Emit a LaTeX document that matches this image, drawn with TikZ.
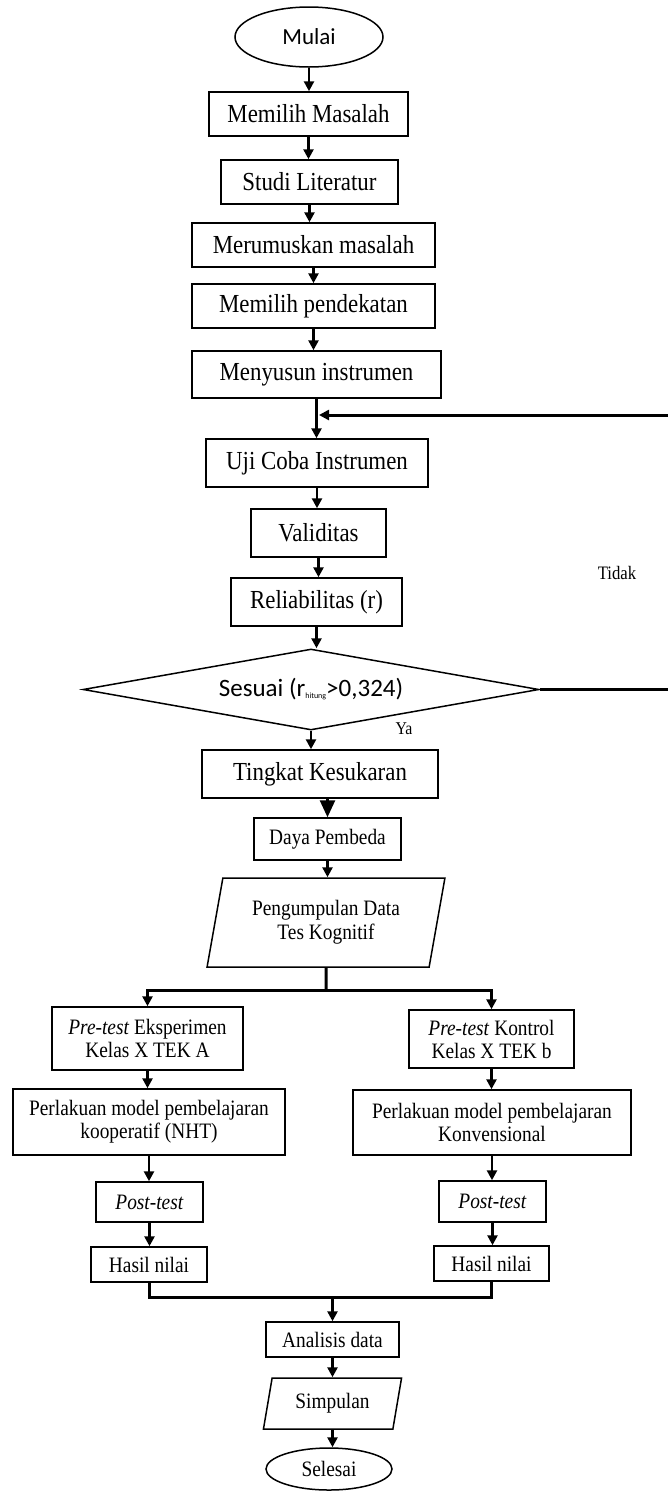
\documentclass[tikz,border=0pt]{standalone}
\usepackage{fontspec}
\setmainfont{Liberation Serif}[FakeStretch=0.88]
\newfontfamily\calibri{Carlito}
\usetikzlibrary{shapes.geometric,arrows.meta}

\begin{document}
\begin{tikzpicture}[x=1pt, y=-1pt, >={Triangle[length=10pt,width=10pt]}]
	\tikzstyle{every node}=[inner sep=1pt, align=center]
	\tikzstyle{box}=[draw, line width=1.5pt, font=\fontsize{26}{28}\selectfont]
	\tikzstyle{boxs}=[draw, line width=1.5pt, font=\fontsize{22}{23}\selectfont]
	\tikzstyle{oval}=[ellipse, draw, line width=1.5pt]
	\tikzstyle{io}=[trapezium, trapezium left angle=76, trapezium right angle=104, trapezium stretches=true, draw, line width=1.5pt, font=\fontsize{22}{24}\selectfont]
	\tikzstyle{line}=[line width=2.6pt]
	\tikzstyle{thick line}=[line width=3pt]
	\useasboundingbox (0,0) rectangle (668,1492);
	% persiapan
	\node[oval, minimum width=148pt, minimum height=60pt, font=\calibri\fontsize{23}{25}\selectfont] (mulai) at (309,37) {Mulai};
	\node[box, minimum width=199pt, minimum height=44pt] (masalah) at (308.5,114) {Memilih Masalah};
	\node[box, minimum width=177pt, minimum height=44pt] (studi) at (309.5,182) {Studi Literatur};
	\node[box, minimum width=243pt, minimum height=44pt] (rumusan) at (313.5,245) {Merumuskan masalah};
	\node[box, minimum width=243pt, minimum height=44pt] (pendekatan) at (313.5,306) {Memilih pendekatan};
	\node[box, minimum width=249pt, minimum height=47pt] (instrumen) at (316.5,374.5) {Menyusun instrumen};
	% uji coba
	\node[box, minimum width=222pt, minimum height=48pt] (ujicoba) at (317,463) {Uji Coba Instrumen};
	\node[box, minimum width=135pt, minimum height=48pt] (validitas) at (318.5,533) {Validitas};
	\node[box, minimum width=171pt, minimum height=48pt] (reliabilitas) at (316.5,602) {Reliabilitas (r)};
	\node[diamond, draw, line width=1.5pt, aspect=5.6, inner sep=0pt, minimum width=456pt, minimum height=81pt, font=\calibri\fontsize{25}{27}\selectfont] (sesuai) at (311,689.5) {Sesuai (r\raisebox{-2pt}{\fontsize{8}{8}\selectfont hitung}>0,324)};
	\node[font=\fontsize{19}{19}\selectfont] (tidak) at (617,573) {Tidak};
	\node[font=\fontsize{18}{18}\selectfont] (ya) at (404,729) {Ya};
	\node[box, minimum width=236pt, minimum height=48pt] (tingkat) at (320,774) {Tingkat Kesukaran};
	\node[boxs, minimum width=147pt, minimum height=42pt] (daya) at (327.5,839) {Daya Pembeda};
	\node[io, minimum width=238pt, minimum height=89pt] (data) at (326,922.5) {Pengumpulan Data\\Tes Kognitif};
	% dua kelas
	\node[boxs, minimum width=191pt, minimum height=63pt] (preA) at (147.5,1038.5) {\textit{Pre-test} Eksperimen\\Kelas X TEK A};
	\node[boxs, minimum width=165pt, minimum height=58pt] (preB) at (491.5,1039) {\textit{Pre-test} Kontrol\\Kelas X TEK b};
	\node[boxs, minimum width=272pt, minimum height=66pt] (lakuA) at (149,1122) {Perlakuan model pembelajaran\\kooperatif (NHT)};
	\node[boxs, minimum width=278pt, minimum height=65pt] (lakuB) at (492,1122.5) {Perlakuan model pembelajaran\\Konvensional};
	\node[boxs, minimum width=107pt, minimum height=40pt] (postA) at (149.5,1202) {\textit{Post-test}};
	\node[boxs, minimum width=107pt, minimum height=41pt] (postB) at (492.5,1201.5) {\textit{Post-test}};
	\node[boxs, minimum width=116pt, minimum height=35pt] (hasilA) at (149,1264.5) {Hasil nilai};
	\node[boxs, minimum width=115pt, minimum height=35pt] (hasilB) at (491.5,1263.5) {Hasil nilai};
	\node[boxs, minimum width=133pt, minimum height=35pt] (analisis) at (332.5,1339.5) {Analisis data};
	\node[io, minimum width=139pt, minimum height=51pt] (simpulan) at (332.5,1403.5) {Simpulan};
	\node[oval, minimum width=126pt, minimum height=42pt, font=\fontsize{22}{23}\selectfont] (selesai) at (329,1469) {Selesai};
	\coordinate (join) at (319,415);
	\coordinate (loop) at (672,415);
	\coordinate (split) at (326,990);
	\coordinate (merge) at (332.5,1297);
	% panah
	\draw [->, line] (mulai) -- (mulai |- masalah.north);
	\draw [->, line] (masalah) -- (masalah |- studi.north);
	\draw [->, line] (studi) -- (studi |- rumusan.north);
	\draw [->, line] (rumusan) -- (rumusan |- pendekatan.north);
	\draw [->, line] (pendekatan) -- (pendekatan |- instrumen.north);
	\draw [->, line] (instrumen) -- (instrumen |- ujicoba.north);
	\draw [->, thick line] (sesuai.east) -| (loop) -- (join);
	\draw [->, line] (ujicoba) -- (ujicoba |- validitas.north);
	\draw [->, line] (validitas) -- (validitas |- reliabilitas.north);
	\draw [->, line] (reliabilitas) -- (reliabilitas |- sesuai.north);
	\draw [->, line] (sesuai) -- (sesuai |- tingkat.north);
	\draw [-{Triangle[length=17pt,width=15pt]}, line] (daya |- tingkat.south) -- (daya);
	\draw [->, line] (daya) -- (daya |- data.north);
	\draw [thick line] (data) -- (split);
	\draw [->, thick line] (split) -| (preA);
	\draw [->, thick line] (split) -| (preB);
	\draw [->, line] (preA) -- (preA |- lakuA.north);
	\draw [->, line] (preB) -- (preB |- lakuB.north);
	\draw [->, line] (lakuA) -- (lakuA |- postA.north);
	\draw [->, line] (lakuB) -- (lakuB |- postB.north);
	\draw [->, line] (postA) -- (postA |- hasilA.north);
	\draw [->, line] (postB) -- (postB |- hasilB.north);
	\draw [thick line] (hasilA) |- (merge);
	\draw [thick line] (hasilB) |- (merge);
	\draw [->, line] (merge) -- (analisis);
	\draw [->, line] (analisis) -- (analisis |- simpulan.north);
	\draw [->, line] (simpulan) -- (simpulan |- selesai.north);
\end{tikzpicture}
\end{document}
